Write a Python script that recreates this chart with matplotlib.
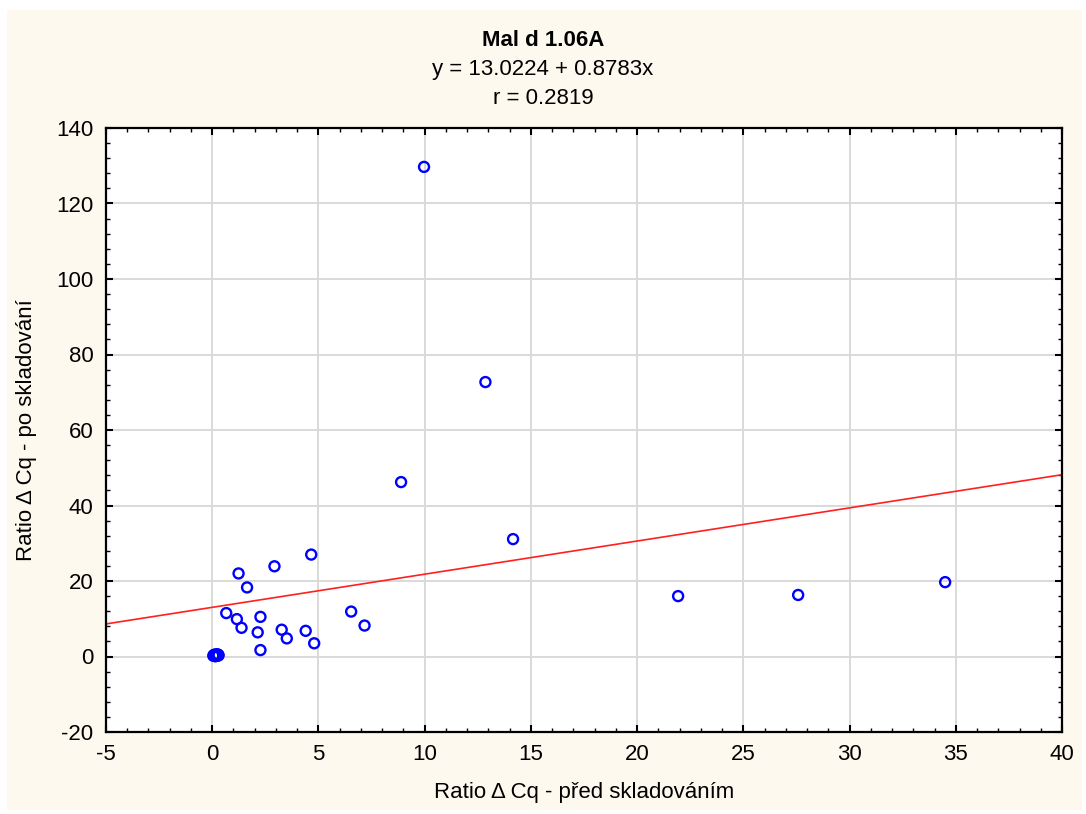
import matplotlib.pyplot as plt
from matplotlib.patches import Rectangle
from matplotlib.ticker import MultipleLocator

width = 1086
height = 814
dpi = 100
figsize = (width/dpi, height/dpi)
cream = '#fef9ee'

# Ratio delta Cq before storage (x) and after storage (y)
x_before = [9.97, 12.86, 8.89, 14.16, 21.93, 27.58, 34.5,
            4.66, 2.93, 1.24, 1.64, 0.66, 1.16, 1.38, 2.27, 2.14, 2.27,
            3.27, 3.51, 4.4, 4.8, 6.54, 7.17,
            0.05, 0.1, 0.12, 0.15, 0.18, 0.2, 0.22, 0.25, 0.28, 0.3, 0.08, 0.14]
y_after = [129.7, 72.7, 46.2, 31.1, 16.0, 16.3, 19.7,
           27.0, 23.9, 22.0, 18.3, 11.5, 9.9, 7.6, 10.5, 6.4, 1.7,
           7.1, 4.8, 6.8, 3.5, 11.9, 8.2,
           0.2, 0.3, 0.5, 0.1, 0.4, 0.3, 0.6, 0.2, 0.5, 0.3, 0.4, 0.1]

intercept = 13.0224
slope = 0.8783
r_value = 0.2819

plt.rcParams['font.family'] = ['Liberation Sans', 'DejaVu Sans']
plt.rcParams['axes.unicode_minus'] = False

fig = plt.figure(figsize=figsize, dpi=dpi, facecolor='white')
fig.patches.append(Rectangle((7/width, 1 - 810/height), (1082-7)/width, (810-10)/height,
                             transform=fig.transFigure, facecolor=cream, edgecolor='none', zorder=-1))

ax = fig.add_axes([106/width, 1 - 732/height, (1062-106)/width, (732-128)/height])
ax.set_facecolor('white')

ax.scatter(x_before, y_after, s=52, facecolors='none', edgecolors='#0000ff', linewidths=1.7, zorder=3)

xs = [-5, 40]
ax.plot(xs, [intercept + slope*v for v in xs], color='#ff2020', linewidth=1.2, zorder=2)

ax.set_xlim(-5, 40)
ax.set_ylim(-20, 140)
ax.xaxis.set_major_locator(MultipleLocator(5))
ax.xaxis.set_minor_locator(MultipleLocator(1))
ax.yaxis.set_major_locator(MultipleLocator(20))
ax.yaxis.set_minor_locator(MultipleLocator(4))
ax.grid(True, which='major', color='#d9d9d9', linewidth=1.4, zorder=0)
ax.set_axisbelow(True)

ax.tick_params(which='both', direction='in', top=True, right=True, labelsize=16, colors='black')
ax.tick_params(which='major', length=5, width=1.5, pad=9)
ax.tick_params(which='minor', length=3, width=1)
for s in ax.spines.values():
    s.set_linewidth(1.6)

ax.set_xlabel('Ratio \u0394 Cq - před skladováním', fontsize=16, labelpad=12)
ax.set_ylabel('Ratio \u0394 Cq - po skladování', fontsize=16, labelpad=14)

fig.text(0.5, 1 - 40/height, 'Mal d 1.06A', ha='center', va='center', fontsize=16, fontweight='bold')
fig.text(0.5, 1 - 69/height, 'y = %.4f + %.4fx' % (intercept, slope), ha='center', va='center', fontsize=16)
fig.text(0.5, 1 - 99/height, 'r = %.4f' % r_value, ha='center', va='center', fontsize=16)

fig.savefig('out.png', dpi=dpi, facecolor='white')
